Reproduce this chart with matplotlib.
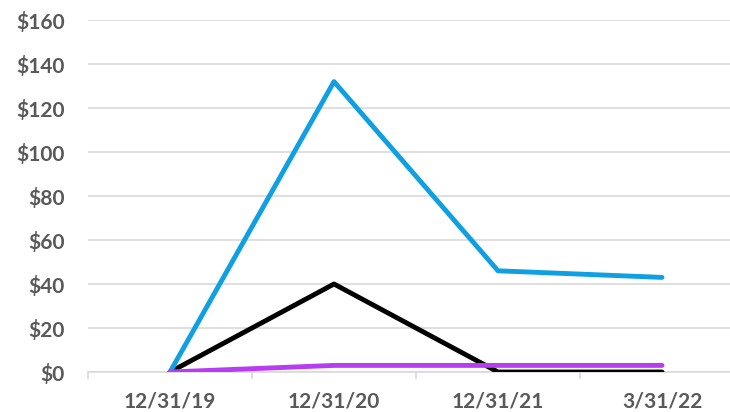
import matplotlib.pyplot as plt
import numpy as np

plt.rcParams['font.family'] = ['Lato', 'DejaVu Sans']

# data
dates = ["12/31/19", "12/31/20", "12/31/21", "3/31/22"]
blue_vals = [0, 132, 46, 43]
black_vals = [0, 40, 0, 0]
purple_vals = [0, 3, 3, 3]

grid_col = "#D9D9D9"
text_col = "#595959"

fig = plt.figure(figsize=(7.3, 4.12), dpi=100)
# plot area runs a bit past the right edge like the reference crop
ax = fig.add_axes([88/730, 40/412, 656/730, 352/412])

x = np.arange(len(dates))
ax.plot(x, black_vals, color="black", lw=3.5, solid_capstyle="round", zorder=3)
ax.plot(x, blue_vals, color="#0EA0E2", lw=3.5, solid_capstyle="round", zorder=4)
ax.plot(x, purple_vals, color="#B73DF0", lw=3.5, solid_capstyle="round", zorder=5)

ax.set_xlim(-0.5, len(dates) - 0.5)
ax.set_ylim(0, 160)
ax.set_yticks(np.arange(0, 161, 20))
ax.set_yticklabels([f"${v}" for v in range(0, 161, 20)])
ax.set_xticks(x)
ax.set_xticklabels(dates)
ax.set_xticks(np.arange(-0.5, len(dates), 1), minor=True)

ax.grid(axis="y", color=grid_col, lw=1.2, zorder=0)
ax.set_axisbelow(True)
for s in ["top", "right", "left"]:
    ax.spines[s].set_visible(False)
ax.spines["bottom"].set_color(grid_col)
ax.spines["bottom"].set_linewidth(1.2)

ax.tick_params(axis="y", length=0, pad=17, labelsize=15, labelcolor=text_col)
ax.tick_params(axis="x", which="major", length=0, pad=14, labelsize=15, labelcolor=text_col)
ax.tick_params(axis="x", which="minor", length=5, width=1.2, color=grid_col)
for lbl in ax.get_xticklabels() + ax.get_yticklabels():
    lbl.set_fontweight("bold")

fig.savefig("out.png", dpi=100)
